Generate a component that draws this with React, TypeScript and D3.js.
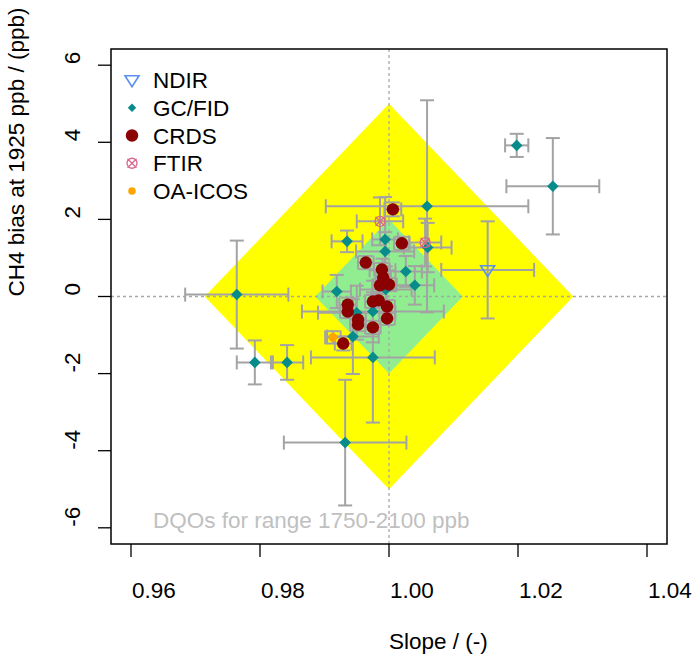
import React from "react";
import * as d3 from "d3";

// ---- data ----
const xTicks = [0.96, 0.98, 1.0, 1.02, 1.04];
const yTicks = [-6, -4, -2, 0, 2, 4, 6];
const xTickLabels = ["0.96", "0.98", "1.00", "1.02", "1.04"];
const yTickLabels = ["-6", "-4", "-2", "0", "2", "4", "6"];

const dqoRange = [1750, 2100];
const dqoLimits = [5, 2]; // ppb: compatibility goal (outer), network goal (inner)

const ndirSlope = [1.0153];
const ndirBias = [0.69];
const ndirSlopeErr = [0.0072];
const ndirBiasErr = [1.26];

const gcSlope = [1.0198, 1.0254, 1.0059, 1.006, 0.9935, 0.9994, 0.9994, 1.0026, 1.004, 0.9919, 0.9764, 0.9792, 0.9842, 0.9975, 0.9944, 0.9975, 0.9932, 0.999, 0.9995, 0.995];
const gcBias = [3.92, 2.86, 2.34, 1.27, 1.43, 1.48, 1.17, 0.65, 0.29, 0.13, 0.05, -1.71, -1.71, -0.39, -1.04, -1.58, -3.79, 0.68, 0.18, -0.42];
const gcSlopeErr = [0.0018, 0.0072, 0.0157, 0.0037, 0.0024, 0.002, 0.0045, 0.0025, 0.003, 0.0022, 0.008, 0.0028, 0.0025, 0.011, 0.004, 0.0096, 0.0095, 0.002, 0.004, 0.006];
const gcBiasErr = [0.3, 1.25, 2.75, 0.64, 0.28, 1.1, 0.5, 0.4, 0.5, 0.43, 1.4, 0.57, 0.45, 0.8, 0.97, 1.69, 1.63, 0.3, 0.6, 0.7];

const crdsSlope = [1.0006, 1.002, 0.9964, 0.9989, 0.9991, 0.9986, 1.0, 0.9936, 0.9936, 0.9975, 0.9984, 0.9997, 0.9952, 0.9952, 0.9975, 0.9997, 0.9929];
const crdsBias = [2.26, 1.38, 0.88, 0.7, 0.49, 0.29, 0.31, -0.21, -0.39, -0.13, -0.1, -0.26, -0.6, -0.73, -0.8, -0.57, -1.22];
const crdsSlopeErr = [0.0013, 0.0012, 0.0012, 0.0012, 0.0012, 0.0012, 0.0012, 0.0013, 0.0012, 0.0012, 0.0012, 0.0012, 0.0012, 0.0012, 0.0012, 0.0012, 0.0013];
const crdsBiasErr = [0.18, 0.17, 0.17, 0.17, 0.17, 0.17, 0.17, 0.18, 0.17, 0.17, 0.17, 0.17, 0.17, 0.17, 0.17, 0.17, 0.18];

const ftirSlope = [0.9986, 1.0056];
const ftirBias = [1.95, 1.4];
const ftirSlopeErr = [0.0036, 0.0025];
const ftirBiasErr = [0.62, 0.62];

const oaSlope = [0.9913];
const oaBias = [-1.06];
const oaSlopeErr = [0.0012];
const oaBiasErr = [0.16];

const legendLabels = ["NDIR", "GC/FID", "CRDS", "FTIR", "OA-ICOS"];

// ---- styles ----
const FONT = "'Liberation Sans', Arial, Helvetica, sans-serif";
const FS = 22.5;
const ERR = "#a3a3a3";
const C_NDIR = "#5b8ff0";
const C_GC = "#078b8b";
const C_CRDS = "#8b0000";
const C_FTIR = "#d9668f";
const C_OA = "#ffa500";

type Pt = { s: number; b: number; sx: number; sy: number };
const zip = (s: number[], b: number[], sx: number[], sy: number[]): Pt[] =>
  s.map((v, i) => ({ s: v, b: b[i], sx: sx[i], sy: sy[i] }));

export default function App() {
  const W = 692, H = 660;
  const x = d3.scaleLinear().domain([0.9569, 1.0431]).range([111, 667]);
  const y = d3.scaleLinear().domain([-6.42, 6.42]).range([544, 49]);

  const ndir = zip(ndirSlope, ndirBias, ndirSlopeErr, ndirBiasErr);
  const gc = zip(gcSlope, gcBias, gcSlopeErr, gcBiasErr);
  const crds = zip(crdsSlope, crdsBias, crdsSlopeErr, crdsBiasErr);
  const ftir = zip(ftirSlope, ftirBias, ftirSlopeErr, ftirBiasErr);
  const oa = zip(oaSlope, oaBias, oaSlopeErr, oaBiasErr);

  const half = (dqoRange[1] - dqoRange[0]) / 2;
  const diamond = (lim: number) => {
    const ds = lim / half;
    const pts: [number, number][] = [
      [1 - ds, 0],
      [1, lim],
      [1 + ds, 0],
      [1, -lim],
    ];
    return d3.line<[number, number]>().x((d) => x(d[0])).y((d) => y(d[1]))(pts) + "Z";
  };

  const cap = 7;
  const errBars = (pts: Pt[], key: string) =>
    pts.map((p, i) => {
      const cx = x(p.s), cy = y(p.b);
      const x0 = x(p.s - p.sx), x1 = x(p.s + p.sx);
      const y0 = y(p.b - p.sy), y1 = y(p.b + p.sy);
      return (
        <g key={key + i} stroke={ERR} strokeWidth={2} fill="none">
          <line x1={x0} x2={x1} y1={cy} y2={cy} />
          <line x1={x0} x2={x0} y1={cy - cap} y2={cy + cap} />
          <line x1={x1} x2={x1} y1={cy - cap} y2={cy + cap} />
          <line x1={cx} x2={cx} y1={y0} y2={y1} />
          <line x1={cx - cap} x2={cx + cap} y1={y0} y2={y0} />
          <line x1={cx - cap} x2={cx + cap} y1={y1} y2={y1} />
        </g>
      );
    });

  const triDown = (cx: number, cy: number, r: number) =>
    `M${cx - r},${cy - r * 0.6}L${cx + r},${cy - r * 0.6}L${cx},${cy + r * 0.95}Z`;
  const diamondPath = (cx: number, cy: number, r: number) =>
    `M${cx - r},${cy}L${cx},${cy - r}L${cx + r},${cy}L${cx},${cy + r}Z`;

  const sym = (kind: number, cx: number, cy: number, legend = false, key?: string) => {
    switch (kind) {
      case 0:
        return <path key={key} d={triDown(cx, cy, 7)} fill="none" stroke={C_NDIR} strokeWidth={1.6} />;
      case 1:
        return <path key={key} d={diamondPath(cx, cy, legend ? 4.2 : 5.8)} fill={C_GC} />;
      case 2:
        return <circle key={key} cx={cx} cy={cy} r={6.2} fill={C_CRDS} />;
      case 3:
        return (
          <g key={key} stroke={C_FTIR} strokeWidth={1.3} fill="none">
            <circle cx={cx} cy={cy} r={5} />
            <line x1={cx - 4.5} y1={cy - 4.5} x2={cx + 4.5} y2={cy + 4.5} />
            <line x1={cx - 4.5} y1={cy + 4.5} x2={cx + 4.5} y2={cy - 4.5} />
          </g>
        );
      default:
        return <circle key={key} cx={cx} cy={cy} r={legend ? 3.8 : 4.3} fill={C_OA} />;
    }
  };

  const groups: Pt[][] = [ndir, gc, crds, ftir, oa];

  return (
    <svg
      width={W}
      height={H}
      style={{ position: "absolute", left: 0, top: 0, background: "#fff" }}
      fontFamily={FONT}
    >
      <rect x={0} y={0} width={W} height={H} fill="#fff" />
      {/* DQO areas */}
      <path d={diamond(dqoLimits[0])} fill="#ffff00" />
      <path d={diamond(dqoLimits[1])} fill="#90ee90" />
      {/* reference lines */}
      <line x1={x.range()[0]} x2={x.range()[1]} y1={y(0)} y2={y(0)} stroke="#a8a8a8" strokeWidth={1.3} strokeDasharray="3,3" />
      <line x1={x(1)} x2={x(1)} y1={y.range()[1]} y2={y.range()[0]} stroke="#a8a8a8" strokeWidth={1.3} strokeDasharray="3,3" />

      {/* error bars */}
      {groups.map((g, gi) => errBars(g, "e" + gi))}
      {/* points */}
      {groups.map((g, gi) => g.map((p, i) => sym(gi, x(p.s), y(p.b), false, `p${gi}-${i}`)))}

      {/* DQO label */}
      <text x={153} y={528} fontSize={FS} fill="#c0c0c0">DQOs for range {dqoRange[0]}-{dqoRange[1]} ppb</text>

      {/* legend */}
      {legendLabels.map((lab, i) => {
        const cy = 80 + i * 27.75;
        return (
          <g key={lab}>
            {sym(i, 132, cy, true)}
            <text x={153} y={cy + 8} fontSize={FS} fill="#000">{lab}</text>
          </g>
        );
      })}

      {/* box */}
      <rect x={111} y={49} width={556} height={495} fill="none" stroke="#000" strokeWidth={1.5} />

      {/* x axis */}
      {xTicks.map((t, i) => (
        <g key={"xt" + i}>
          <line x1={x(t)} x2={x(t)} y1={544} y2={557} stroke="#000" strokeWidth={1.3} />
          <text x={x(t) + 1} y={598} fontSize={FS} fill="#000">{xTickLabels[i]}</text>
        </g>
      ))}
      {/* y axis */}
      {yTicks.map((t, i) => (
        <g key={"yt" + i}>
          <line x1={98} x2={111} y1={y(t)} y2={y(t)} stroke="#000" strokeWidth={1.3} />
          <text transform={`translate(80,${y(t) - 1}) rotate(-90)`} fontSize={FS} fill="#000">{yTickLabels[i]}</text>
        </g>
      ))}

      <text x={389} y={649} fontSize={FS} fill="#000">Slope / (-)</text>
      <text transform={`translate(24,${(49 + 544) / 2}) rotate(-90)`} fontSize={FS} fill="#000">
        CH4 bias at 1925 ppb / (ppb)
      </text>
    </svg>
  );
}
